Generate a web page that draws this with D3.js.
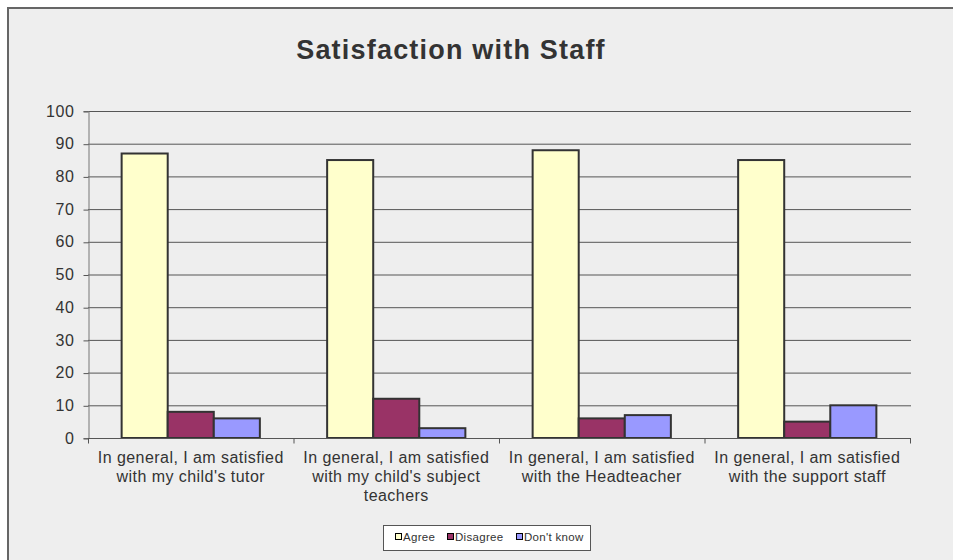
<!DOCTYPE html>
<html><head><meta charset="utf-8">
<script src="https://cdn.jsdelivr.net/npm/d3@7"></script>
<style>html,body{margin:0;padding:0;background:#fff;}svg{display:block;font-family:Arial,"Liberation Sans",sans-serif;}</style>
</head><body>
<svg id="c" width="953" height="560"></svg>
<script>
const categories = [
  ["In general, I am satisfied","with my child's tutor"],
  ["In general, I am satisfied","with my child's subject","teachers"],
  ["In general, I am satisfied","with the Headteacher"],
  ["In general, I am satisfied","with the support staff"]
];
const seriesNames = ["Agree","Disagree","Don't know"];
const agree = [87, 85, 88, 85];
const disagree = [8, 12, 6, 5];
const dontKnow = [6, 3, 7, 10];
const yTicks = [0,10,20,30,40,50,60,70,80,90,100];
const colors = ["#FFFFCC","#993366","#9999FF"];
const seriesValues = [agree, disagree, dontKnow];

const svg = d3.select("#c");
// frame
svg.append("rect").attr("x",8).attr("y",8).attr("width",960).attr("height",570)
  .attr("fill","#eeeeee").attr("stroke","#666").attr("stroke-width",2);

svg.append("text").attr("x",451).attr("y",59).attr("text-anchor","middle")
  .attr("font-size",27).attr("font-weight","bold").attr("fill","#333")
  .attr("letter-spacing",1.2)
  .text("Satisfaction with Staff");

const L=88, R=910, T=111, B=438;
const x = d3.scaleBand().domain(d3.range(categories.length)).range([L,R]).paddingInner(0).paddingOuter(0);
const y = d3.scaleLinear().domain([0,100]).range([B,T]);
const inner = d3.scaleBand().domain(d3.range(seriesNames.length)).range([0,x.bandwidth()]).paddingOuter(0.73).paddingInner(0);

// gridlines
svg.append("g").selectAll("line").data(yTicks.filter(d=>d>0)).join("line")
  .attr("x1",L).attr("x2",R+1).attr("y1",d=>y(d)+0.5).attr("y2",d=>y(d)+0.5)
  .attr("stroke","#555").attr("stroke-width",1);

// y axis
const ya = svg.append("g").attr("transform",`translate(${L+0.5},0)`)
  .call(d3.axisLeft(y).tickValues(yTicks).tickSize(5).tickPadding(9));
ya.select(".domain").attr("stroke","#777");
ya.selectAll(".tick line").attr("stroke","#555").attr("transform","translate(0,0.5)");
ya.selectAll("text").attr("font-size",16).attr("letter-spacing",0.6).attr("fill","#333")
  .attr("font-family","Arial,'Liberation Sans',sans-serif");

// bars
const groups = svg.append("g").selectAll("g").data(categories.map((c,i)=>i)).join("g")
  .attr("transform",i=>`translate(${x(i)},0)`);
groups.selectAll("rect").data(i=>seriesValues.map((s,k)=>({k,v:s[i]}))).join("rect")
  .attr("x",d=>inner(d.k)).attr("width",inner.bandwidth())
  .attr("y",d=>y(d.v)).attr("height",d=>B-y(d.v))
  .attr("fill",d=>colors[d.k]).attr("stroke","#333").attr("stroke-width",2);

// x axis
const xa = svg.append("g").attr("transform",`translate(0,${B+0.5})`);
xa.append("line").attr("x1",L).attr("x2",R+1).attr("stroke","#555");
xa.selectAll("line.t").data(d3.range(categories.length+1)).join("line").attr("class","t")
  .attr("x1",i=>L+i*x.bandwidth()+0.5).attr("x2",i=>L+i*x.bandwidth()+0.5)
  .attr("y1",0).attr("y2",5).attr("stroke","#555");
const lab = svg.append("g").selectAll("text").data(categories).join("text")
  .attr("text-anchor","middle").attr("font-size",16).attr("letter-spacing",0.45).attr("fill","#333")
  .attr("transform",(d,i)=>`translate(${x(i)+x.bandwidth()/2},463)`);
lab.selectAll("tspan").data(d=>d).join("tspan").attr("x",0).attr("dy",(d,j)=>j?19:0).text(d=>d);

// legend
const lg = svg.append("g");
lg.append("rect").attr("x",383.5).attr("y",525.5).attr("width",207).attr("height",25)
  .attr("fill","#fff").attr("stroke","#555");
const lx = [395, 447, 516];
seriesNames.forEach((n,k)=>{
  lg.append("rect").attr("x",lx[k]+0.5).attr("y",533.5).attr("width",6).attr("height",6)
    .attr("fill",colors[k]).attr("stroke","#000").attr("stroke-width",1);
  lg.append("text").attr("x",lx[k]+8).attr("y",541).attr("font-size",11.5).attr("letter-spacing",0.3)
    .attr("fill","#333").text(n);
});
</script>
</body></html>
